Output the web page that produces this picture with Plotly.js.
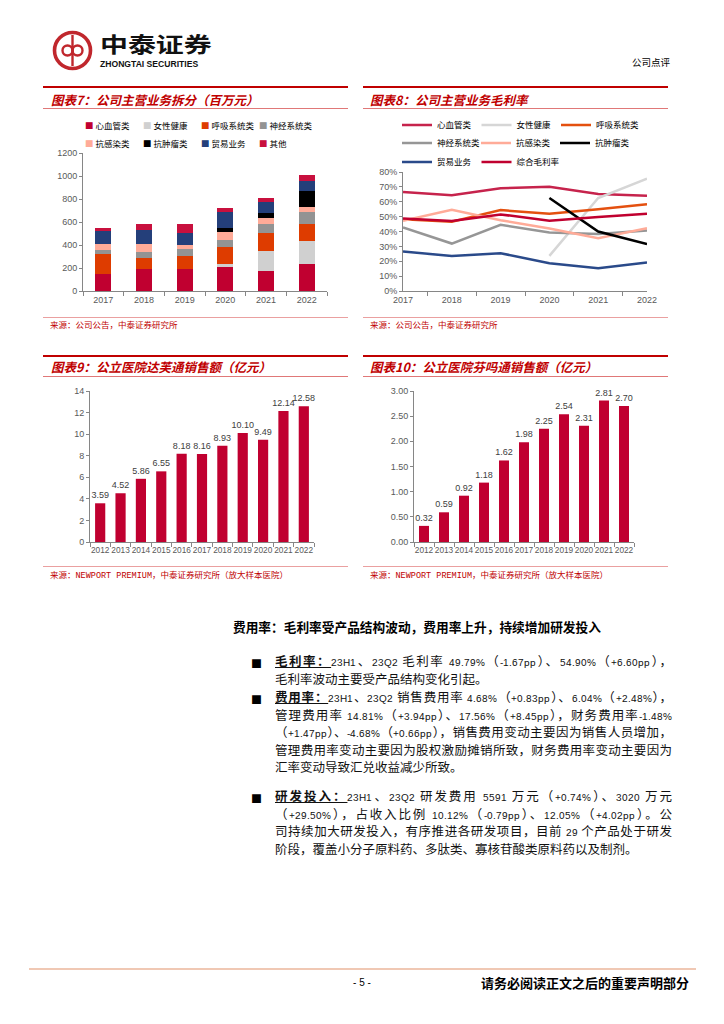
<!DOCTYPE html>
<html><head><meta charset="utf-8">
<script src="https://cdn.plot.ly/plotly-3.0.1.min.js"></script>
<style>
@font-face{font-family:'LatS';src:local('Liberation Sans');size-adjust:82%;}
html,body{margin:0;padding:0;background:#fff;}
#page{position:relative;width:724px;height:1024px;overflow:hidden;font-family:'Noto Sans CJK SC',sans-serif;}
.abs{position:absolute;}
.ttl{position:absolute;font-style:italic;font-weight:bold;color:#c00000;font-size:12.5px;white-space:nowrap;line-height:16px;}
.src{position:absolute;color:#c00000;font-size:8.5px;white-space:nowrap;line-height:12px;font-family:'Liberation Mono','Noto Sans CJK SC';}
.hthick{position:absolute;height:2px;background:#c00000;}
.hthin{position:absolute;height:1px;background:#e07878;}
.hsrc{position:absolute;height:1px;background:#eaa0a0;}
.ln{position:absolute;left:275px;width:397px;height:18px;line-height:18px;font-size:12.5px;font-family:'LatS','Noto Sans CJK SC';white-space:nowrap;text-align:justify;text-align-last:justify;color:#111;}
.ln.last{text-align-last:left;}
.ln u{font-weight:bold;}
.bul{position:absolute;left:251px;width:10px;height:18px;line-height:18px;font-size:11px;color:#000;}
.chart{position:absolute;}
</style></head>
<body><div id="page">

<!-- header -->
<svg class="abs" style="left:52px;top:30px" width="41" height="41" viewBox="0 0 41 41">
<circle cx="20.5" cy="20.5" r="18" fill="none" stroke="#c0272d" stroke-width="3.6"/>
<line x1="20.5" y1="5" x2="20.5" y2="36" stroke="#c0272d" stroke-width="2.4"/>
<circle cx="15.5" cy="20.5" r="5" fill="none" stroke="#c0272d" stroke-width="2.4"/>
<circle cx="25.5" cy="20.5" r="5" fill="none" stroke="#c0272d" stroke-width="2.4"/>
</svg>
<div class="abs" style="left:100px;top:30px;font-size:21px;font-weight:bold;line-height:26px;color:#111;transform:scaleX(1.33);transform-origin:left top;white-space:nowrap;">中泰证券</div>
<div class="abs" style="left:100px;top:58px;font-size:8.6px;font-weight:bold;line-height:12px;color:#111;font-family:'Liberation Sans';white-space:nowrap;">ZHONGTAI SECURITIES</div>
<div class="abs" style="left:632px;top:54px;font-size:9.5px;line-height:16px;color:#000;white-space:nowrap;">公司点评</div>

<!-- panel 7 -->
<div class="hthick" style="left:43px;top:86px;width:305px;"></div>
<div class="ttl" style="left:51px;top:92px;">图表7：公司主营业务拆分（百万元）</div>
<div class="hthin" style="left:43px;top:108px;width:305px;"></div>
<div class="chart" id="c7" style="left:43px;top:110px;width:305px;height:205px;"></div>
<div class="hsrc" style="left:43px;top:317px;width:305px;"></div>
<div class="src" style="left:50px;top:320px;">来源：公司公告，中泰证券研究所</div>

<!-- panel 8 -->
<div class="hthick" style="left:363px;top:86px;width:305px;"></div>
<div class="ttl" style="left:370px;top:92px;">图表8：公司主营业务毛利率</div>
<div class="hthin" style="left:363px;top:108px;width:305px;"></div>
<div class="chart" id="c8" style="left:363px;top:110px;width:305px;height:205px;"></div>
<div class="hsrc" style="left:363px;top:317px;width:305px;"></div>
<div class="src" style="left:370px;top:320px;">来源：公司公告，中泰证券研究所</div>

<!-- panel 9 -->
<div class="hthick" style="left:43px;top:355px;width:305px;"></div>
<div class="ttl" style="left:51px;top:359px;">图表9：公立医院达芙通销售额（亿元）</div>
<div class="hthin" style="left:43px;top:376px;width:305px;"></div>
<div class="chart" id="c9" style="left:43px;top:378px;width:305px;height:187px;"></div>
<div class="hsrc" style="left:43px;top:566px;width:305px;"></div>
<div class="src" style="left:50px;top:570px;">来源：NEWPORT PREMIUM，中泰证券研究所（放大样本医院）</div>

<!-- panel 10 -->
<div class="hthick" style="left:363px;top:355px;width:305px;"></div>
<div class="ttl" style="left:370px;top:359px;">图表10：公立医院芬吗通销售额（亿元）</div>
<div class="hthin" style="left:363px;top:376px;width:305px;"></div>
<div class="chart" id="c10" style="left:363px;top:378px;width:305px;height:187px;"></div>
<div class="hsrc" style="left:363px;top:566px;width:305px;"></div>
<div class="src" style="left:370px;top:570px;">来源：NEWPORT PREMIUM，中泰证券研究所（放大样本医院）</div>

<!-- body text -->
<div class="abs" style="left:233px;top:618px;font-size:12.7px;font-weight:bold;line-height:18px;color:#000;white-space:nowrap;">费用率：毛利率受产品结构波动，费用率上升，持续增加研发投入</div>

<div class="bul" style="top:654px;">■</div>
<div class="ln" style="top:654px;"><u>毛利率：</u>23H1、23Q2 毛利率 49.79%（-1.67pp）、54.90%（+6.60pp），</div>
<div class="ln last" style="top:672px;">毛利率波动主要受产品结构变化引起。</div>

<div class="bul" style="top:690px;">■</div>
<div class="ln" style="top:690px;"><u>费用率：</u>23H1、23Q2 销售费用率 4.68%（+0.83pp）、6.04%（+2.48%），</div>
<div class="ln" style="top:708px;">管理费用率 14.81%（+3.94pp）、17.56%（+8.45pp），财务费用率-1.48%</div>
<div class="ln" style="top:725px;">（+1.47pp）、-4.68%（+0.66pp），销售费用变动主要因为销售人员增加，</div>
<div class="ln" style="top:743px;">管理费用率变动主要因为股权激励摊销所致，财务费用率变动主要因为</div>
<div class="ln last" style="top:760px;">汇率变动导致汇兑收益减少所致。</div>

<div class="bul" style="top:789px;">■</div>
<div class="ln" style="top:789px;"><u>研发投入：</u>23H1、23Q2 研发费用 5591 万元（+0.74%）、3020 万元</div>
<div class="ln" style="top:807px;">（+29.50%），占收入比例 10.12%（-0.79pp）、12.05%（+4.02pp）。公</div>
<div class="ln" style="top:824px;">司持续加大研发投入，有序推进各研发项目，目前 29 个产品处于研发</div>
<div class="ln last" style="top:842px;">阶段，覆盖小分子原料药、多肽类、寡核苷酸类原料药以及制剂。</div>

<!-- footer -->
<div class="abs" style="left:29px;top:968px;width:667px;height:2px;background:#f0c8b4;"></div>
<div class="abs" style="left:340px;top:975px;width:44px;text-align:center;font-size:10px;line-height:16px;font-family:'Liberation Sans';color:#000;">- 5 -</div>
<div class="abs" style="left:481px;top:974px;width:208px;text-align:right;font-size:13px;font-weight:bold;line-height:18px;color:#000;white-space:nowrap;">请务必阅读正文之后的重要声明部分</div>

</div>
<script>
// ===== Chart 7 data: 公司主营业务拆分（百万元）
const years7 = ['2017','2018','2019','2020','2021','2022'];
const seg7Names = ['心血管类','女性健康','呼吸系统类','神经系统类','抗感染类','抗肿瘤类','贸易业务','其他'];
const seg7Colors = ['#c00030','#d0d0d0','#de3c00','#939393','#ffab98','#000000','#243f7a','#c8103e'];
const cardio = [150,195,195,211,178,236];
const women = [null,null,null,26,171,195];
const resp = [174,90,111,150,155,154];
const neuro = [36,51,61,58,78,99];
const antiInf = [52,70,35,70,53,48];
const onco = [null,null,null,29,40,135];
const trade = [112,127,104,140,95,92];
const other = [22,47,79,41,40,52];
const seg7Values = [cardio,women,resp,neuro,antiInf,onco,trade,other];

// ===== Chart 8 data: 公司主营业务毛利率
const gmNames = ['心血管类','女性健康','呼吸系统类','神经系统类','抗感染类','抗肿瘤类','贸易业务','综合毛利率'];
const gmColors = ['#c6234c','#d6d6d6','#e4500f','#969696','#ffab98','#000000','#2a4a8a','#c0002f'];
const cardioGM = [0.665,0.643,0.690,0.701,0.652,0.640];
const womenGM = [null,null,null,0.236,0.625,0.755];
const respGM = [0.483,0.465,0.544,0.519,0.550,0.584];
const neuroGM = [0.427,0.319,0.445,0.393,0.384,0.407];
const antiGM = [0.472,0.546,0.476,0.420,0.355,0.422];
const oncoGM = [null,null,null,0.625,0.400,0.315];
const tradeGM = [0.265,0.236,0.254,0.187,0.153,0.191];
const totalGM = [0.488,0.470,0.515,0.472,0.497,0.519];
const gmValues = [cardioGM,womenGM,respGM,neuroGM,antiGM,oncoGM,tradeGM,totalGM];
const gmLegendRow = ['legend','legend','legend','legend2','legend2','legend2','legend3','legend3'];

// ===== Chart 9/10 data
const years11 = ['2012','2013','2014','2015','2016','2017','2018','2019','2020','2021','2022'];
const dafutong = [3.59,4.52,5.86,6.55,8.18,8.16,8.93,10.10,9.49,12.14,12.58];
const fenmatong = [0.32,0.59,0.92,1.18,1.62,1.98,2.25,2.54,2.31,2.81,2.70];

const axisCommon = {showline:true, linecolor:'#868686', linewidth:1, ticks:'outside', tickcolor:'#868686', ticklen:3, showgrid:false, zeroline:false, fixedrange:true};
const tickFont = {family:'Liberation Sans', size:9, color:'#595959'};
const cfg = {staticPlot:true, displayModeBar:false};

// Chart 7
const tr7 = seg7Names.map((n,i)=>({type:'bar', name:n, x:years7, y:seg7Values[i], marker:{color:seg7Colors[i]}, hoverinfo:'skip'}));
const ann7 = seg7Names.map((n,i)=>({
  xref:'paper', yref:'paper', x:(i%4)*58/244, y: i<4 ? 1.203 : 1.0725,
  xanchor:'left', yanchor:'middle', showarrow:false,
  text:'<span style="color:'+seg7Colors[i]+'">■</span> '+n,
  font:{family:'Noto Sans CJK SC', size:8.5, color:'#000'}
}));
Plotly.newPlot('c7', tr7, {
  width:305, height:205, margin:{l:40,r:21,t:43,b:24,autoexpand:false},
  paper_bgcolor:'rgba(0,0,0,0)', plot_bgcolor:'rgba(0,0,0,0)',
  barmode:'stack', bargap:0.6, showlegend:false, font:tickFont,
  xaxis:Object.assign({}, axisCommon, {type:'category', tickson:'boundaries', ticklen:4, tickfont:tickFont}),
  yaxis:Object.assign({}, axisCommon, {range:[0,1200], dtick:200, tickfont:tickFont}),
  annotations:ann7
}, cfg);

// Chart 8
const tr8 = gmNames.map((n,i)=>({type:'scatter', mode:'lines', name:n, x:years7, y:gmValues[i], line:{color:gmColors[i], width:2.5}, legend:gmLegendRow[i], hoverinfo:'skip'}));
const legCommon = {orientation:'h', xref:'container', yref:'container', x:34/305, xanchor:'left', yanchor:'middle', itemwidth:30, bgcolor:'rgba(0,0,0,0)', font:{family:'Noto Sans CJK SC', size:8.5, color:'#000'}, tracegroupgap:0};
Plotly.newPlot('c8', tr8, {
  width:305, height:205, margin:{l:40,r:21,t:62,b:24,autoexpand:false},
  paper_bgcolor:'rgba(0,0,0,0)', plot_bgcolor:'rgba(0,0,0,0)',
  font:tickFont, showlegend:true,
  legend:Object.assign({}, legCommon, {y:1-15/205}),
  legend2:Object.assign({}, legCommon, {y:1-33/205, entrywidth:34, entrywidthmode:'pixels'}),
  legend3:Object.assign({}, legCommon, {y:1-52/205}),
  xaxis:Object.assign({}, axisCommon, {type:'category', tickson:'boundaries', ticklen:4, tickfont:tickFont}),
  yaxis:Object.assign({}, axisCommon, {range:[0,0.8], dtick:0.1, tickformat:'.0%', tickfont:tickFont})
}, cfg);

// Chart 9 & 10
function barChart(id, yvals, yrange, dtick, tfmt, ml) {
  Plotly.newPlot(id, [{type:'bar', x:years11, y:yvals, marker:{color:'#c00030'},
    texttemplate:'%{y:.2f}', textposition:'outside', constraintext:'none', cliponaxis:false,
    textfont:{family:'Liberation Sans', size:9, color:'#404040'}, hoverinfo:'skip'}], {
    width:305, height:187, margin:{l:ml,r:34,t:13,b:23,autoexpand:false},
    paper_bgcolor:'rgba(0,0,0,0)', plot_bgcolor:'rgba(0,0,0,0)',
    bargap:0.5, showlegend:false, font:tickFont,
    xaxis:Object.assign({}, axisCommon, {type:'category', tickson:'boundaries', ticklen:4, tickangle:0, tickfont:{family:'Liberation Sans', size:8.3, color:'#595959'}}),
    yaxis:Object.assign({}, axisCommon, {range:yrange, dtick:dtick, tickformat:tfmt, tickfont:tickFont})
  }, cfg);
}
barChart('c9', dafutong, [0,14], 2, '', 47);
barChart('c10', fenmatong, [0,3], 0.5, '.2f', 51);
</script>
</body></html>
